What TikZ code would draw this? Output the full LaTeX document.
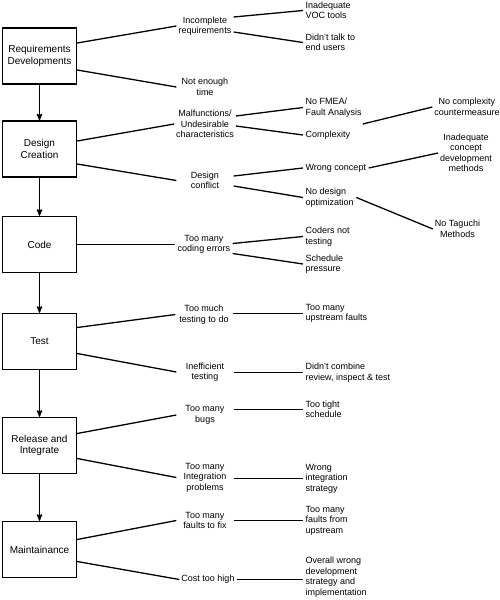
\documentclass[tikz,border=0pt]{standalone}
\usepackage{fontspec}
\setmainfont{Liberation Sans}
\usetikzlibrary{arrows}

\begin{document}
\begin{tikzpicture}[x=1pt,y=-1pt,>=stealth',line width=1.3pt]
  \tikzstyle{phase}=[draw,rectangle,minimum width=74pt,minimum height=56pt,align=center,font=\fontsize{10}{11.5}\selectfont]
  \tikzstyle{cause}=[align=center,minimum width=56pt,inner sep=1.5pt,font=\fontsize{9}{10.5}\selectfont]
  \tikzstyle{root}=[anchor=west,align=left,inner sep=2pt,font=\fontsize{9}{10.5}\selectfont]
  \tikzstyle{deep}=[align=center,inner sep=1.5pt,font=\fontsize{9}{10.5}\selectfont]
\useasboundingbox (0,0) rectangle (500,600);
% phases
\node[phase] (req) at (39.5,56) {Requirements\\Developments};
\node[phase] (design) at (39.5,149) {Design\\Creation};
\node[phase] (code) at (39.5,244.5) {Code};
\node[phase] (test) at (39.5,341.5) {Test};
\node[phase] (rel) at (39.5,445.5) {Release and\\Integrate};
\node[phase] (maint) at (39.5,549.5) {Maintainance};
% first causes
\node[cause] (inc) at (205,26) {Incomplete\\requirements};
\node[cause] (time) at (205,87) {Not enough\\time};
\node[cause] (mal) at (205,124) {Malfunctions/\\Undesirable\\characteristics};
\node[cause] (conf) at (205,180.5) {Design\\conflict};
\node[cause] (coding) at (204,244.5) {Too many\\coding errors};
\node[cause] (much) at (204,314.5) {Too much\\testing to do};
\node[cause] (ineff) at (205,372) {Inefficient\\testing};
\node[cause] (bugs) at (205,415) {Too many\\bugs};
\node[cause] (integ) at (205,477.5) {Too many\\Integration\\problems};
\node[cause] (faults) at (205,520.5) {Too many\\faults to fix};
\node[cause] (cost) at (208,579.5) {Cost too high};
% second causes
\node[root] (voc) at (303,10.5) {Inadequate\\VOC tools};
\node[root] (talk) at (303,42.5) {Didn't talk to\\end users};
\node[root] (fmea) at (303,107.5) {No FMEA/\\Fault Analysis};
\node[root] (cplx) at (303,135) {Complexity};
\node[root] (wrong) at (303,168) {Wrong concept};
\node[root] (nodopt) at (303,197.5) {No design\\optimization};
\node[root] (coders) at (303,236.5) {Coders not\\testing};
\node[root] (sched) at (303,264) {Schedule\\pressure};
\node[root] (upstream) at (303,313.5) {Too many\\upstream faults};
\node[root] (combine) at (303,372.5) {Didn't combine\\review, inspect \& test};
\node[root] (tight) at (303,409.5) {Too tight\\schedule};
\node[root] (wrongint) at (303,478.5) {Wrong\\integration\\strategy};
\node[root] (faultsup) at (303,520.5) {Too many\\faults from\\upstream};
\node[root] (overall) at (303,577) {Overall wrong\\development\\strategy and\\implementation};
% third causes
\node[deep] (counter) at (467,107) {No complexity\\countermeasure};
\node[deep] (methods) at (466,153) {Inadequate\\concept\\development\\methods};
\node[deep] (taguchi) at (457.5,229) {No Taguchi\\Methods};
\path[->]
(req) edge (design)
(design) edge (code)
(code) edge (test)
(test) edge (rel)
(rel) edge (maint);
\draw ([yshift=13pt]req.east) -- (inc.west);
\draw ([yshift=-14pt]req.east) -- (time.west);
\draw ([yshift=8pt]design.east) -- (mal.west);
\draw ([yshift=-15pt]design.east) -- (conf.west);
\draw (code.east) -- (coding.west);
\draw ([yshift=14pt]test.east) -- (much.west);
\draw ([yshift=-12pt]test.east) -- (ineff.west);
\draw ([yshift=12pt]rel.east) -- (bugs.west);
\draw ([yshift=-13pt]rel.east) -- (integ.west);
\draw ([yshift=10pt]maint.east) -- (faults.west);
\draw ([yshift=-12pt]maint.east) -- (cost.west);
\draw ([yshift=9pt]inc.east) -- (voc.west);
\draw ([yshift=-6pt]inc.east) -- (talk.west);
\draw ([yshift=8pt]mal.east) -- (fmea.west);
\draw ([yshift=-2pt]mal.east) -- (cplx.west);
\draw ([yshift=4.5pt]conf.east) -- (wrong.west);
\draw ([yshift=-5.5pt]conf.east) -- (nodopt.west);
\draw ([yshift=1pt]coding.east) -- (coders.west);
\draw ([yshift=-9pt]coding.east) -- (sched.west);
\draw (much.east |- upstream.west) -- (upstream.west);
\draw (ineff.east |- combine.west) -- (combine.west);
\draw (bugs.east |- tight.west) -- (tight.west);
\draw (integ.east |- wrongint.west) -- (wrongint.west);
\draw (faults.east |- faultsup.west) -- (faultsup.west);
\draw (cost.east) -- (cost.east -| overall.west);
\draw ([xshift=10pt,yshift=11pt]cplx.east) -- (counter.west);
\draw (wrong.east) -- (methods.west);
\draw (nodopt.east) -- (taguchi.west);
\end{tikzpicture}
\end{document}
